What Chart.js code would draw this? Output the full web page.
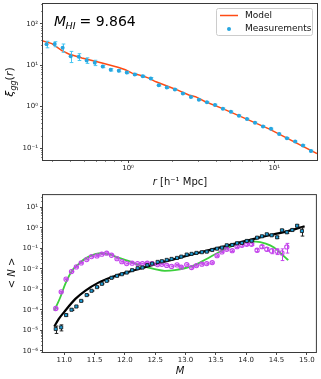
<!DOCTYPE html>
<html>
<head>
<meta charset="utf-8">
<script src="https://cdn.jsdelivr.net/npm/chart.js@4.4.1/dist/chart.umd.min.js"></script>
<style>
  html, body { margin: 0; padding: 0; background: #fff; }
  canvas { display: block; }
</style>
</head>
<body>
<canvas id="xi_chart" width="321" height="190"></canvas>
<canvas id="hod_chart" width="321" height="189"></canvas>
<script>
// pannello superiore: funzione di correlazione
const rBins = [0.277, 0.315, 0.357, 0.405, 0.460, 0.521, 0.592, 0.671, 0.761, 0.864, 0.980, 1.11, 1.26, 1.43,
  1.62, 1.84, 2.09, 2.37, 2.69, 3.05, 3.46, 3.93, 4.45, 5.05, 5.73, 6.50, 7.38, 8.37, 9.49, 10.8, 12.2, 13.9, 15.7, 17.8];
const xiMeas = [32.2, 32.5, 26.6, 16.6, 16.0, 13.1, 11.5, 9.33, 7.76, 7.40, 6.67, 6.0, 5.4, 4.8, 3.29, 2.88, 2.6,
  2.08, 1.71, 1.47, 1.27, 1.10, 0.889, 0.751, 0.601, 0.500, 0.406, 0.332, 0.290, 0.219, 0.172, 0.143, 0.115, 0.0847];
const xiErr = [5.8, 4.5, 6, 5, 3, 2, 1.7, 0.6, 0.5, 0.45, 0.4, 0.35, 0.3, 0.25, 0.15, 0.13, 0.11, 0.09, 0.07, 0.06,
  0.05, 0.045, 0.035, 0.03, 0.024, 0.02, 0.016, 0.013, 0.012, 0.009, 0.007, 0.006, 0.005, 0.004];
const rModel = [0.2576, 0.3016, 0.353, 0.393, 0.484, 0.664, 0.864, 0.958, 1.065, 1.247, 1.386, 1.538, 2.108, 2.605,
  2.89, 3.38, 4.40, 9.20, 19.6];
const xiModel = [39.4, 33.3, 22.5, 18.7, 14.9, 11.3, 8.83, 7.76, 6.45, 5.55, 4.88, 4.03, 2.64, 1.91, 1.74, 1.315,
  0.909, 0.290, 0.0732];
const xiXTicks = [1, 10];
const xiXLabels = ['10⁰', '10¹'];
const xiYTicks = [0.1, 1, 10, 100];
const xiYLabels = ['10⁻¹', '10⁰', '10¹', '10²'];

// pannello inferiore: numero medio di oggetti per massa
const massBins = [10.86, 10.95, 11.03, 11.12, 11.20, 11.28, 11.37, 11.45, 11.54, 11.62, 11.70, 11.78, 11.87, 11.95,
  12.03, 12.12, 12.21, 12.29, 12.37, 12.45, 12.54, 12.61, 12.69, 12.77, 12.86, 12.93, 13.02, 13.10, 13.18, 13.27,
  13.35, 13.44, 13.52, 13.60, 13.68, 13.77, 13.85, 13.93, 14.01, 14.09, 14.18, 14.26, 14.34, 14.42, 14.51, 14.59,
  14.67, 14.76, 14.84, 14.92];
const nSquares = [1.15e-5, 1.38e-5, 5.5e-5, 1.0e-4, 1.44e-4, 2.7e-4, 5.2e-4, 8.4e-4, 1.27e-3, 1.83e-3, 2.56e-3,
  3.6e-3, 4.5e-3, 5.4e-3, 6.5e-3, 8.5e-3, 1.06e-2, 1.14e-2, 1.49e-2, 1.78e-2, 2.15e-2, 2.33e-2, 2.69e-2, 3.0e-2,
  3.36e-2, 3.9e-2, 4.9e-2, 5.3e-2, 5.9e-2, 6.4e-2, 6.8e-2, 8.2e-2, 9.5e-2, 0.107, 0.139, 0.144, 0.175, 0.180,
  0.226, 0.233, 0.327, 0.382, 0.478, 0.427, 0.341, 0.748, 0.597, 0.773, 1.25, 0.691];
const nSquaresErr = [4.5e-6, 4.5e-6, 6e-6, 8e-6, 1e-5, 1.6e-5, 2.6e-5, 4e-5, 6e-5, 8e-5, 1.1e-4, 1.5e-4, 1.8e-4,
  2.1e-4, 2.5e-4, 3.2e-4, 4e-4, 4.2e-4, 5.4e-4, 6.4e-4, 7.6e-4, 8.2e-4, 9.4e-4, 1.05e-3, 1.2e-3, 1.4e-3, 1.7e-3,
  1.9e-3, 2.1e-3, 2.3e-3, 2.5e-3, 3e-3, 3.6e-3, 4.2e-3, 5.6e-3, 6e-3, 7.5e-3, 8e-3, 0.011, 0.012, 0.018, 0.022,
  0.03, 0.03, 0.04, 0.06, 0.06, 0.08, 0.12, 0.3];
const nCircles = [1.15e-4, 7.5e-4, 3.1e-3, 7.3e-3, 1.23e-2, 1.92e-2, 2.78e-2, 3.9e-2, 4.2e-2, 5.1e-2, 5.7e-2,
  4.55e-2, 3.1e-2, 2.2e-2, 1.78e-2, 1.86e-2, 1.78e-2, 1.78e-2, 1.86e-2, 1.78e-2, 1.59e-2, 1.63e-2, 1.45e-2, 1.3e-2,
  1.54e-2, 1.19e-2, 1.59e-2, 1.14e-2, 1.42e-2, 1.66e-2, 1.78e-2, 1.99e-2, 4.35e-2, 6.6e-2, 8.9e-2, 7.6e-2, 0.119,
  0.139, 0.156, 0.156, 7.96e-2, 0.119, 8.9e-2, 7.4e-2, 7.1e-2, 5.9e-2, 0.115];
const nCirclesErr = [6e-6, 3.5e-5, 1.4e-4, 3.2e-4, 5.4e-4, 8.4e-4, 1.2e-3, 1.7e-3, 1.8e-3, 2.2e-3, 2.5e-3, 2e-3,
  1.4e-3, 1e-3, 8e-4, 8.5e-4, 8e-4, 8e-4, 8.5e-4, 8e-4, 7.5e-4, 8e-4, 7e-4, 6.5e-4, 8e-4, 6.5e-4, 9e-4, 7e-4, 9e-4,
  1.1e-3, 1.2e-3, 1.4e-3, 3.2e-3, 5e-3, 7e-3, 6.5e-3, 0.011, 0.013, 0.016, 0.017, 0.012, 0.018, 0.017, 0.02,
  0.022, 0.034, 0.057];
const massBlack = [10.836, 10.908, 11.016, 11.180, 11.345, 11.565, 11.783, 12.001, 12.276, 12.571, 12.878, 13.118,
  13.666, 14.213, 14.652, 14.964];
const nBlack = [1.5e-5, 3.5e-5, 9.0e-5, 3.3e-4, 8.4e-4, 2.1e-3, 3.9e-3, 6.3e-3, 1.05e-2, 1.9e-2, 3.3e-2, 5.1e-2,
  0.129, 0.33, 0.64, 1.17];
const massGreen = [10.836, 10.934, 11.016, 11.126, 11.236, 11.345, 11.509, 11.619, 11.729, 11.893, 12.057, 12.276,
  12.494, 12.658, 12.822, 13.118, 13.338, 13.556, 13.775, 13.995, 14.159, 14.323, 14.460, 14.570, 14.694];
const nGreen = [8.9e-5, 3.95e-4, 1.77e-3, 7.85e-3, 1.66e-2, 3.11e-2, 5.09e-2, 5.69e-2, 5.09e-2, 3.48e-2, 2.4e-2,
  1.37e-2, 9.5e-3, 7.85e-3, 8.49e-3, 1.37e-2, 2.91e-2, 6.59e-2, 0.129, 0.202, 0.209, 0.167, 0.107, 5.69e-2, 2.6e-2];
const massTicks = [11, 11.5, 12, 12.5, 13, 13.5, 14, 14.5, 15];
const massLabels = ['11.0', '11.5', '12.0', '12.5', '13.0', '13.5', '14.0', '14.5', '15.0'];
const nTicks = [1e-6, 1e-5, 1e-4, 1e-3, 1e-2, 1e-1, 1, 10];
const nLabels = ['10⁻⁶', '10⁻⁵', '10⁻⁴', '10⁻³', '10⁻²', '10⁻¹', '10⁰', '10¹'];

const FONT = '"DejaVu Sans", sans-serif';
Chart.defaults.font.family = FONT;
Chart.defaults.color = '#222';

const blue = '#27a6e0';
const orange = '#ff4b14';
const violet = '#c445ec';
const green = '#3ccf3c';

// testo con pezzi di font diversi (corsivo, pedici)
function drawRich(ctx, parts, x, y) {
    let w = 0;
    parts.forEach(p => { ctx.font = p.font; p.w = ctx.measureText(p.text).width; w += p.w; });
    let cx = x - w / 2;
    ctx.textAlign = 'left';
    ctx.textBaseline = 'alphabetic';
    parts.forEach(p => { ctx.font = p.font; ctx.fillText(p.text, cx, y + (p.dy || 0)); cx += p.w; });
}

function minorValues(min, max) {
    const out = [];
    for (let e = Math.floor(Math.log10(min)); e <= Math.ceil(Math.log10(max)); e++) {
        for (let k = 2; k <= 9; k++) {
            const v = k * Math.pow(10, e);
            if (v > min && v < max) out.push(v);
        }
    }
    return out;
}

// barre di errore, disegnate sotto i punti del dataset
const errorBars = {
    id: 'errorBars',
    beforeDatasetDraw(chart, args) {
        const ds = chart.data.datasets[args.index];
        if (!ds.errors) return;
        const { ctx, scales: { x, y } } = chart;
        ctx.save();
        ctx.strokeStyle = ds.errorColor;
        ctx.lineWidth = 1;
        ds.data.forEach((p, i) => {
            const e = ds.errors[i];
            const px = Math.round(x.getPixelForValue(p.x)) + 0.5;
            const lo = y.getPixelForValue(Math.max(p.y - e, y.min));
            const hi = y.getPixelForValue(p.y + e);
            ctx.beginPath();
            ctx.moveTo(px, lo); ctx.lineTo(px, hi);
            ctx.moveTo(px - 1.8, lo); ctx.lineTo(px + 1.8, lo);
            ctx.moveTo(px - 1.8, hi); ctx.lineTo(px + 1.8, hi);
            ctx.stroke();
        });
        ctx.restore();
    }
};

// cornice e tacche secondarie
const frame = {
    id: 'frame',
    afterDatasetsDraw(chart) {
        const { ctx, chartArea: a } = chart;
        ctx.save();
        ctx.strokeStyle = '#3a3a3a';
        ['x', 'y'].forEach(k => {
            const s = chart.scales[k];
            if (s.type !== 'logarithmic') return;
            minorValues(s.min, s.max).forEach(v => {
                const p = Math.round(s.getPixelForValue(v)) + 0.5;
                ctx.beginPath();
                if (k === 'x') { ctx.moveTo(p, a.bottom); ctx.lineTo(p, a.bottom + 2); }
                else { ctx.moveTo(a.left, p); ctx.lineTo(a.left - 2, p); }
                ctx.lineWidth = 0.6;
                ctx.stroke();
            });
        });
        ctx.lineWidth = 1;
        ctx.strokeRect(a.left - 0.5, a.top - 0.5, a.right - a.left + 1, a.bottom - a.top + 1);
        ctx.restore();
    }
};

function logAxis(min, max, ticks, labels, isX, size) {
    return {
        type: 'logarithmic',
        min: min,
        max: max,
        afterBuildTicks: s => { s.ticks = ticks.map(v => ({ value: v })); },
        afterFit: s => {
            if (isX) { s.height = size; s.paddingLeft = 0; s.paddingRight = 0; }
            else { s.width = size; s.paddingTop = 0; s.paddingBottom = 0; }
        },
        ticks: { callback: (v, i) => labels[i], font: { size: 7 }, padding: isX ? 1 : 2, autoSkip: false, maxRotation: 0 },
        grid: { drawOnChartArea: false, tickLength: 3, tickColor: '#333', tickWidth: 0.9 },
        border: { display: false }
    };
}

const xiText = {
    id: 'xiText',
    afterDraw(chart) {
        const ctx = chart.ctx;
        ctx.save();
        ctx.fillStyle = '#111';
        drawRich(ctx, [
            { text: 'r', font: 'italic 10px ' + FONT },
            { text: ' [h⁻¹ Mpc]', font: '10px ' + FONT }
        ], 180, 185);
        ctx.translate(0, 82);
        ctx.rotate(-Math.PI / 2);
        drawRich(ctx, [
            { text: 'ξ', font: 'italic 11px ' + FONT },
            { text: 'gg', font: 'italic 8px ' + FONT, dy: 2.5 },
            { text: '(', font: '11px ' + FONT },
            { text: 'r', font: 'italic 11px ' + FONT },
            { text: ')', font: '11px ' + FONT }
        ], 0, 13);
        ctx.restore();

        // annotazione
        ctx.save();
        ctx.fillStyle = '#000';
        ctx.textAlign = 'left';
        ctx.textBaseline = 'alphabetic';
        ctx.font = 'italic 14px ' + FONT;
        ctx.fillText('M', 54, 26);
        ctx.font = 'italic 9.5px ' + FONT;
        ctx.fillText('HI', 65.5, 28.5);
        ctx.font = '14px ' + FONT;
        ctx.fillText('= 9.864', 79.5, 26);
        ctx.restore();

        // legenda
        ctx.save();
        ctx.fillStyle = 'rgba(255,255,255,0.8)';
        ctx.strokeStyle = '#cccccc';
        ctx.lineWidth = 1;
        ctx.beginPath();
        ctx.roundRect(216.5, 8.5, 96, 27, 2);
        ctx.fill();
        ctx.stroke();
        ctx.strokeStyle = orange;
        ctx.lineWidth = 1.5;
        ctx.beginPath();
        ctx.moveTo(220, 15.5); ctx.lineTo(238, 15.5);
        ctx.stroke();
        ctx.fillStyle = blue;
        ctx.beginPath();
        ctx.arc(229, 29, 2, 0, Math.PI * 2);
        ctx.fill();
        ctx.fillStyle = '#111';
        ctx.font = '9px ' + FONT;
        ctx.textBaseline = 'middle';
        ctx.fillText('Model', 245, 15.5);
        ctx.fillText('Measurements', 245, 29);
        ctx.restore();
    }
};

new Chart(document.getElementById('xi_chart'), {
    type: 'scatter',
    data: {
        datasets: [{
            label: 'Measurements',
            data: rBins.map((r, i) => ({ x: r, y: xiMeas[i] })),
            pointRadius: 2,
            pointBorderWidth: 0,
            pointBackgroundColor: blue,
            errors: xiErr,
            errorColor: '#45c6f2'
        }, {
            type: 'line',
            label: 'Model',
            data: rModel.map((r, i) => ({ x: r, y: xiModel[i] })),
            borderColor: orange,
            borderWidth: 1.5,
            pointRadius: 0,
            tension: 0,
            fill: false
        }]
    },
    options: {
        responsive: false,
        animation: false,
        events: [],
        layout: { padding: { top: 4, right: 4, left: 0, bottom: 0 } },
        plugins: { legend: { display: false }, tooltip: { enabled: false } },
        scales: {
            x: logAxis(0.262, 19.6, xiXTicks, xiXLabels, true, 30),
            y: logAxis(0.0513, 302, xiYTicks, xiYLabels, false, 43)
        }
    },
    plugins: [errorBars, frame, xiText]
});

const hodText = {
    id: 'hodText',
    afterDraw(chart) {
        const ctx = chart.ctx;
        ctx.save();
        ctx.fillStyle = '#111';
        drawRich(ctx, [{ text: 'M', font: 'italic 10px ' + FONT }], 180, 183.5);
        ctx.translate(0, 83);
        ctx.rotate(-Math.PI / 2);
        drawRich(ctx, [
            { text: '< ', font: '10px ' + FONT },
            { text: 'N', font: 'italic 10px ' + FONT },
            { text: ' >', font: '10px ' + FONT }
        ], 0, 15);
        ctx.restore();
    }
};

new Chart(document.getElementById('hod_chart'), {
    type: 'scatter',
    data: {
        datasets: [{
            label: 'squares',
            data: massBins.map((m, i) => ({ x: m, y: nSquares[i] })),
            pointStyle: 'rect',
            pointRadius: 2.2,
            pointBackgroundColor: '#1d9ed8',
            pointBorderColor: '#111',
            pointBorderWidth: 0.8,
            errors: nSquaresErr,
            errorColor: '#222'
        }, {
            label: 'circles',
            data: nCircles.map((n, i) => ({ x: massBins[i], y: n })),
            pointStyle: 'circle',
            pointRadius: 2.1,
            pointBackgroundColor: 'rgba(255,255,255,0)',
            pointBorderColor: violet,
            pointBorderWidth: 1.1,
            errors: nCirclesErr,
            errorColor: violet
        }, {
            type: 'line',
            data: massBlack.map((m, i) => ({ x: m, y: nBlack[i] })),
            borderColor: '#000',
            borderWidth: 2.2,
            pointRadius: 0,
            cubicInterpolationMode: 'monotone',
            fill: false
        }, {
            type: 'line',
            data: massGreen.map((m, i) => ({ x: m, y: nGreen[i] })),
            borderColor: green,
            borderWidth: 1.8,
            pointRadius: 0,
            cubicInterpolationMode: 'monotone',
            fill: false
        }]
    },
    options: {
        responsive: false,
        animation: false,
        events: [],
        layout: { padding: { top: 4, right: 4, left: 0, bottom: 0 } },
        plugins: { legend: { display: false }, tooltip: { enabled: false } },
        scales: {
            x: {
                type: 'linear',
                min: 10.65,
                max: 15.15,
                afterBuildTicks: s => { s.ticks = massTicks.map(v => ({ value: v })); },
                afterFit: s => { s.height = 27; s.paddingLeft = 0; s.paddingRight = 0; },
                ticks: { callback: (v, i) => massLabels[i], font: { size: 7 }, padding: 1, autoSkip: false, maxRotation: 0 },
                grid: { drawOnChartArea: false, tickLength: 3, tickColor: '#333', tickWidth: 0.9 },
                border: { display: false }
            },
            y: logAxis(8.7e-7, 38.9, nTicks, nLabels, false, 43)
        }
    },
    plugins: [errorBars, frame, hodText]
});
</script>
</body>
</html>
